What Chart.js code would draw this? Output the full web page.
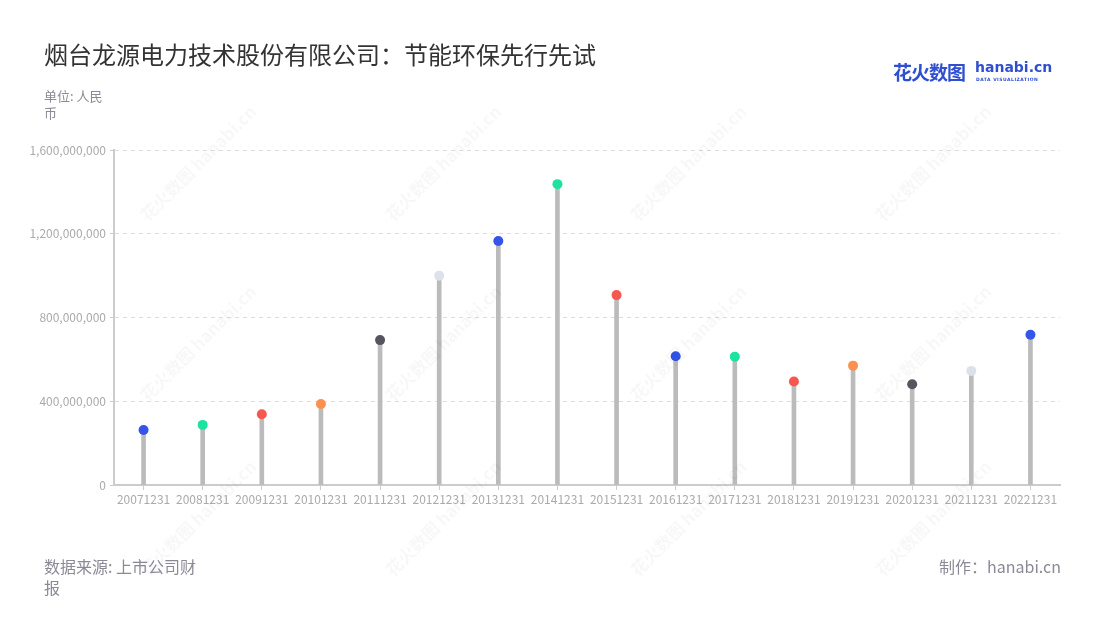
<!DOCTYPE html>
<html>
<head>
<meta charset="utf-8">
<script src="https://cdn.jsdelivr.net/npm/chart.js@4/dist/chart.umd.min.js"></script>
<style>
  html, body { margin: 0; padding: 0; background: #fff; }
  body { width: 1100px; height: 620px; position: relative; overflow: hidden;
         font-family: "Noto Sans CJK SC", "Noto Sans", sans-serif; }
  #wrap { position: absolute; left: 0; top: 0; width: 1100px; height: 620px; }
  .txt { position: absolute; white-space: nowrap; }
  #title { left: 44px; top: 38px; font-size: 24px; color: #333; line-height: 32px; }
  #unit { left: 44px; top: 87px; font-size: 13px; color: #8a8a96; line-height: 17px; white-space: normal; width: 70px; }
  #source { left: 44px; top: 556px; font-size: 16px; color: #8a8a96; line-height: 21px; white-space: normal; width: 160px; }
  #maker { right: 39px; top: 556px; font-size: 16px; color: #8a8a96; line-height: 21px; }
  #logo { left: 893px; top: 58px; color: #2f4fd0; font-weight: bold; }
  #logo .cn { font-size: 19px; letter-spacing: -1px; }
  #logo .en { position: absolute; left: 82px; top: 1px; font-size: 14px; font-family: "DejaVu Sans", sans-serif; }
  #logo .sub { position: absolute; left: 83px; top: 19px; font-size: 4.5px; font-family: "DejaVu Sans", sans-serif; letter-spacing: 0.5px; }
  .wm { position: absolute; color: rgba(0,0,0,0.03); font-size: 17px; font-weight: bold;
        transform: rotate(-45deg); white-space: nowrap; pointer-events: none; }
</style>
</head>
<body>
<div id="wrap"><canvas id="chart" width="1100" height="620"></canvas></div>
<div class="txt" id="title">烟台龙源电力技术股份有限公司：节能环保先行先试</div>
<div class="txt" id="unit">单位: 人民币</div>
<div class="txt" id="source">数据来源: 上市公司财报</div>
<div class="txt" id="maker">制作：hanabi.cn</div>
<div class="txt" id="logo"><span class="cn">花火数图</span><span class="en">hanabi.cn</span><span class="sub">DATA VISUALIZATION</span></div>
<script>
const categories = ['20071231', '20081231', '20091231', '20101231', '20111231', '20121231',
  '20131231', '20141231', '20151231', '20161231', '20171231', '20181231',
  '20191231', '20201231', '20211231', '20221231'];

const values = [263000000, 287000000, 338000000, 387000000, 692000000, 1000000000,
  1165000000, 1437000000, 907000000, 615000000, 613000000, 494000000,
  570000000, 481000000, 545000000, 718000000];

const yTicks = [0, 400000000, 800000000, 1200000000, 1600000000];

const dotColors = ['#3454ea', '#1ee3a0', '#f6584f', '#fb914f', '#55555f', '#dde1ea',
  '#3454ea', '#1ee3a0', '#f6584f', '#3454ea', '#1ee3a0', '#f6584f',
  '#fb914f', '#55555f', '#dde1ea', '#3454ea'];

// faint watermarks
const wmSpots = [[120, 150], [365, 150], [610, 150], [855, 150],
  [120, 330], [365, 330], [610, 330], [855, 330],
  [120, 505], [365, 505], [610, 505], [855, 505]];
wmSpots.forEach(([x, y]) => {
  const d = document.createElement('div');
  d.className = 'wm';
  d.textContent = '花火数图 hanabi.cn';
  d.style.left = x + 'px';
  d.style.top = y + 'px';
  document.body.appendChild(d);
});

const fontFamily = `"Noto Sans CJK SC", "Noto Sans", sans-serif`;

const ctx = document.getElementById('chart').getContext('2d');
new Chart(ctx, {
  type: 'bar',
  data: {
    labels: categories,
    datasets: [{
      type: 'line',
      data: values,
      showLine: false,
      pointRadius: 5,
      pointHoverRadius: 5,
      pointBorderWidth: 0,
      pointBackgroundColor: dotColors,
      pointBorderColor: dotColors,
      order: 0
    }, {
      type: 'bar',
      data: values,
      backgroundColor: '#bbbbbb',
      barThickness: 4,
      order: 1
    }]
  },
  options: {
    responsive: false,
    animation: false,
    layout: { padding: { left: 0, right: 40, top: 150, bottom: 100 } },
    plugins: {
      legend: { display: false },
      tooltip: { enabled: false }
    },
    scales: {
      x: {
        offset: true,
        grid: {
          offset: false,
          drawOnChartArea: false,
          drawTicks: true,
          tickLength: 5,
          color: '#cccccc'
        },
        border: { color: '#cccccc', width: 2 },
        ticks: {
          color: '#aaaaaa',
          font: { size: 12, family: fontFamily },
          maxRotation: 0,
          autoSkip: false,
          padding: 2
        },
        afterFit: scale => { scale.height = 35; }
      },
      y: {
        min: 0,
        max: 1600000000,
        afterBuildTicks: scale => { scale.ticks = yTicks.map(v => ({ value: v })); },
        grid: {
          color: '#dddddd',
          tickLength: 4,
          tickColor: '#cccccc',
          drawTicks: true
        },
        border: { color: '#cccccc', width: 2, dash: [4, 4] },
        ticks: {
          color: '#aaaaaa',
          font: { size: 12, family: fontFamily },
          padding: 4,
          callback: v => v.toLocaleString('en-US')
        },
        afterFit: scale => { scale.width = 114; }
      }
    }
  }
});
</script>
</body>
</html>
